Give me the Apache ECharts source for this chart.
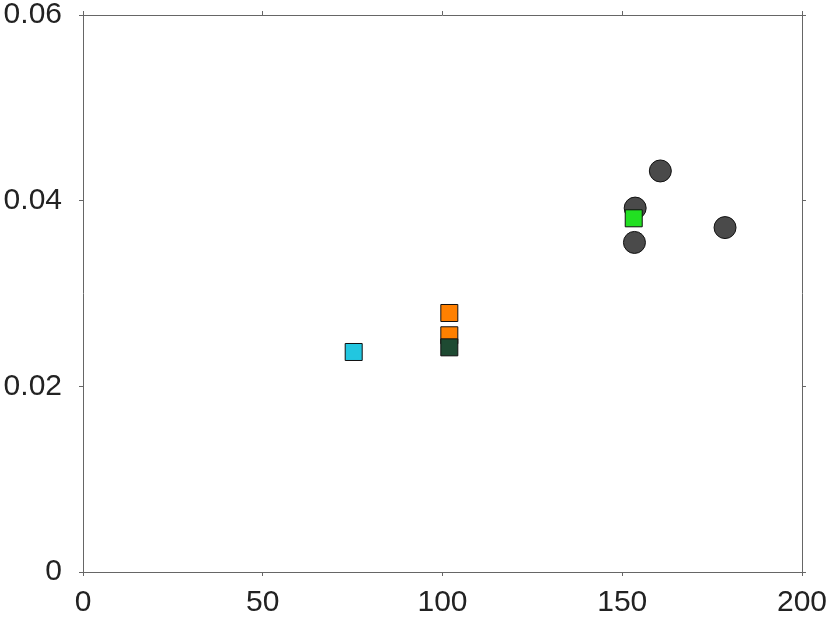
<!DOCTYPE html>
<html>
<head>
<meta charset="utf-8">
<script src="https://cdn.jsdelivr.net/npm/echarts@6/dist/echarts.min.js"></script>
<style>
  html, body { margin: 0; padding: 0; background: #fff; }
  #chart { width: 830px; height: 619px; }
</style>
</head>
<body>
<div id="chart"></div>
<script>
// values
const circlePts = [[160.6, 0.0432], [153.6, 0.0392], [153.4, 0.0355], [178.6, 0.0371]]
const cyanPts = [[75.3, 0.0237]]
const orangePts = [[101.9, 0.0279], [101.9, 0.0255]]
const darkGreenPts = [[101.9, 0.0242]]
const greenPts = [[153.2, 0.0381]]

const xTicks = [0, 50, 100, 150, 200]
const yTicks = [0, 0.02, 0.04, 0.06]

const axisGray = '#666'
const labelFont = { color: '#222', fontSize: 30, fontFamily: 'Liberation Sans' }

const chart = echarts.init(document.getElementById('chart'), null, { renderer: 'canvas' })

function axisBase (min, max, interval) {
  return {
    type: 'value',
    min: min,
    max: max,
    interval: interval,
    splitLine: { show: false },
    axisLine: { show: true, onZero: false, lineStyle: { color: axisGray, width: 1 } },
    axisTick: { show: true, inside: false, length: 4, lineStyle: { color: axisGray } }
  }
}

function pts (data, symbol, size, color) {
  return {
    type: 'scatter',
    data: data,
    symbol: symbol,
    symbolSize: size,
    itemStyle: { color: color, borderColor: '#111', borderWidth: 1, opacity: 1 },
    emphasis: { disabled: true },
    animation: false
  }
}

chart.setOption({
  animation: false,
  grid: { left: 83, right: 27, top: 14, bottom: 47 },
  xAxis: [
    Object.assign(axisBase(xTicks[0], xTicks[xTicks.length - 1], 50), {
      position: 'bottom',
      axisLabel: Object.assign({ margin: 16 }, labelFont)
    }),
    Object.assign(axisBase(xTicks[0], xTicks[xTicks.length - 1], 50), {
      position: 'top',
      axisLabel: { show: false }
    })
  ],
  yAxis: [
    Object.assign(axisBase(yTicks[0], yTicks[yTicks.length - 1], 0.02), {
      position: 'left',
      axisLabel: Object.assign({ margin: 21, formatter: v => v === 0 ? '0' : v.toFixed(2) }, labelFont)
    }),
    Object.assign(axisBase(yTicks[0], yTicks[yTicks.length - 1], 0.02), {
      position: 'right',
      axisLabel: { show: false }
    })
  ],
  series: [
    pts(circlePts, 'circle', 22, '#4a4a4a'),
    pts(cyanPts, 'rect', 17, '#22c6e0'),
    pts(orangePts, 'rect', 17, '#ff8000'),
    pts(darkGreenPts, 'rect', 17, '#1e4a32'),
    pts(greenPts, 'rect', 17, '#22e022')
  ]
})
</script>
</body>
</html>
